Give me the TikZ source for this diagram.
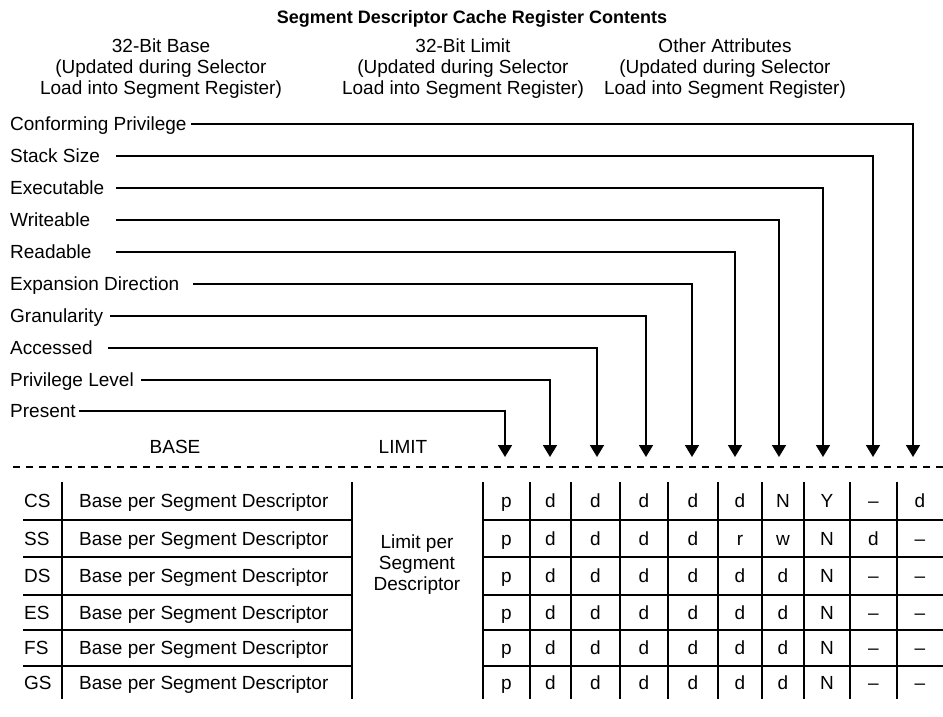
\documentclass[tikz,border=0pt]{standalone}
\usepackage{fontspec}
\setmainfont{Liberation Sans}
\usetikzlibrary{arrows.meta, positioning}

\tikzset{
  txt/.style={inner sep=0pt, font=\fontsize{19}{21}\selectfont},
  hdr/.style={txt, align=center},
  lbl/.style={txt, anchor=west, text height=13.5pt, text depth=0pt},
  cell/.style={txt, text height=13.5pt, text depth=0pt},
  feed/.style={line width=1.8pt, -{Triangle[width=14pt,length=12pt]}},
  grid/.style={line width=2.2pt},
}
\def\colx{{506.5,550.5,595.5,644,693,740,783,827,873.5,920}}

\begin{document}
\begin{tikzpicture}[x=1pt,y=-1pt]
  \useasboundingbox (0,0) rectangle (943,717);

  % title and the three column heads
  \node[hdr, font=\fontsize{18}{21}\selectfont\bfseries] (title) at (472,19) {Segment Descriptor Cache Register Contents};
  \node[hdr] (hbase) at (161,69) {32-Bit Base\\(Updated during Selector\\Load into Segment Register)};
  \node[hdr] (hlimit) at (463,69) {32-Bit Limit\\(Updated during Selector\\Load into Segment Register)};
  \node[hdr] (hattr) at (725,69) {Other Attributes\\(Updated during Selector\\Load into Segment Register)};

  % attribute names feeding down into the table columns
  \foreach \name/\label/\ly/\sx/\tx in {
      cp/Conforming Privilege/124/191/913,
      ss/Stack Size/156/116/873,
      ex/Executable/188/116/823,
      wr/Writeable/220/116/779,
      rd/Readable/252/116/735,
      ed/Expansion Direction/284/193/692,
      gr/Granularity/316/110/646,
      ac/Accessed/348/108/597,
      pl/Privilege Level/380/141/550,
      pr/Present/411/79/505} {
    \node[lbl] (\name) at (10,\ly) {\label};
    \coordinate (s-\name) at (\sx,\ly);
    \coordinate (t-\name) at (\tx,457);
    \draw[feed] (s-\name) -| (t-\name);
  }

  \node[cell] (base) at (175,447) {BASE};
  \node[cell] (limit) at (403,447) {LIMIT};
  \draw[line width=1.8pt, dash pattern=on 7pt off 6pt] (13,467) -- (943,467);

  % table rules
  \foreach \y in {520,557,595,630,666} {
    \draw[grid] (23,\y) -- (352,\y);
    \draw[grid] (483,\y) -- (943,\y);
  }
  \foreach \x in {62,352,483,530,571,620,668,718,762,804,850,897}
    \draw[grid] (\x,482) -- (\x,699);

  \node[hdr] (lim) at (417,565) {Limit per\\Segment\\Descriptor};

  % one row per segment register
  \foreach \reg/\ry/\vals [count=\r] in {
      CS/501/{p,d,d,d,d,d,N,Y,--,d},
      SS/538.5/{p,d,d,d,d,r,w,N,d,--},
      DS/576/{p,d,d,d,d,d,d,N,--,--},
      ES/612.5/{p,d,d,d,d,d,d,N,--,--},
      FS/648/{p,d,d,d,d,d,d,N,--,--},
      GS/682.5/{p,d,d,d,d,d,d,N,--,--}} {
    \node[cell, anchor=west] (reg\r) at (24,\ry) {\reg};
    \node[cell, anchor=west] (b\r) at (79,\ry) {Base per Segment Descriptor};
    \foreach \v [count=\c] in \vals {
      \pgfmathsetmacro\cx{\colx[\c-1]}
      \node[cell] (r\r-c\c) at (\cx,\ry) {\v};
    }
  }
\end{tikzpicture}
\end{document}
